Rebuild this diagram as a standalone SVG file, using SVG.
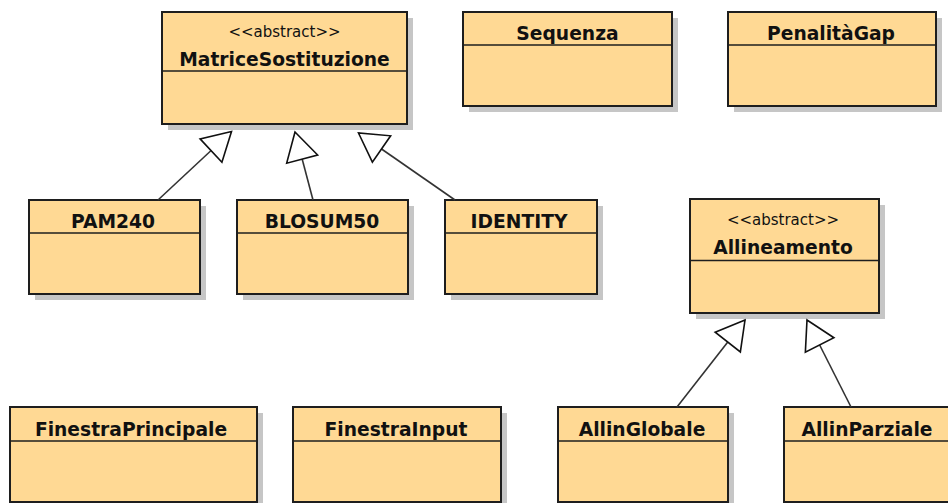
<svg xmlns="http://www.w3.org/2000/svg" width="948" height="503" viewBox="0 0 948 503">
<style>
.sh{fill:#c6c6c6;stroke:none}
.bx{fill:#ffd994;stroke:#1e1e1e;stroke-width:2}
.dv{stroke:#1e1e1e;stroke-width:1.6}
.nm{font-family:"DejaVu Sans","Liberation Sans",sans-serif;font-weight:bold;font-size:18.7px;fill:#111;text-anchor:middle}
.st{font-family:"DejaVu Sans","Liberation Sans",sans-serif;font-size:15px;fill:#111;text-anchor:middle}
.cn{stroke:#333;stroke-width:1.6;fill:none;marker-end:url(#gen)}
</style>
<defs>
<marker id="gen" markerUnits="userSpaceOnUse" markerWidth="40" markerHeight="40" viewBox="-32 -20 40 40" refX="0" refY="0" orient="auto" overflow="visible">
<path d="M0,0 L-28,-16 L-28,16 Z" fill="#fff" stroke="#111" stroke-width="1.6" stroke-linejoin="miter"/>
</marker>
</defs>
<rect width="948" height="503" fill="#fff"/>

<g id="MatriceSostituzione">
<rect class="sh" x="168" y="18" width="245" height="112"/>
<rect class="bx" x="162" y="12" width="245" height="112"/>
<line class="dv" x1="162" y1="71" x2="407" y2="71"/>
<text class="st" x="284.5" y="37">&lt;&lt;abstract&gt;&gt;</text>
<text class="nm" x="284.5" y="66">MatriceSostituzione</text>
</g>

<g id="Sequenza">
<rect class="sh" x="469" y="18" width="209" height="94"/>
<rect class="bx" x="463" y="12" width="209" height="94"/>
<line class="dv" x1="463" y1="45" x2="672" y2="45"/>
<text class="nm" x="567.5" y="40">Sequenza</text>
</g>

<g id="PenalitaGap">
<rect class="sh" x="734" y="18" width="208" height="94"/>
<rect class="bx" x="728" y="12" width="208" height="94"/>
<line class="dv" x1="728" y1="45" x2="936" y2="45"/>
<text class="nm" x="831" y="40">PenalitàGap</text>
</g>

<g id="PAM240">
<rect class="sh" x="35" y="206" width="171" height="94"/>
<rect class="bx" x="29" y="200" width="171" height="94"/>
<line class="dv" x1="29" y1="233" x2="200" y2="233"/>
<text class="nm" x="113" y="228">PAM240</text>
</g>

<g id="BLOSUM50">
<rect class="sh" x="243" y="206" width="171" height="94"/>
<rect class="bx" x="237" y="200" width="171" height="94"/>
<line class="dv" x1="237" y1="233" x2="408" y2="233"/>
<text class="nm" x="322" y="228">BLOSUM50</text>
</g>

<g id="IDENTITY">
<rect class="sh" x="451" y="206" width="152" height="94"/>
<rect class="bx" x="445" y="200" width="152" height="94"/>
<line class="dv" x1="445" y1="233" x2="597" y2="233"/>
<text class="nm" x="519" y="228">IDENTITY</text>
</g>

<g id="Allineamento">
<rect class="sh" x="696" y="205" width="189" height="114"/>
<rect class="bx" x="690" y="199" width="189" height="114"/>
<line class="dv" x1="690" y1="260.5" x2="879" y2="260.5"/>
<text class="st" x="783" y="225">&lt;&lt;abstract&gt;&gt;</text>
<text class="nm" x="783" y="254">Allineamento</text>
</g>

<g id="FinestraPrincipale">
<rect class="sh" x="16" y="413" width="247" height="95"/>
<rect class="bx" x="10" y="407" width="247" height="95"/>
<line class="dv" x1="10" y1="441" x2="257" y2="441"/>
<text class="nm" x="131" y="436">FinestraPrincipale</text>
</g>

<g id="FinestraInput">
<rect class="sh" x="299" y="413" width="208" height="95"/>
<rect class="bx" x="293" y="407" width="208" height="95"/>
<line class="dv" x1="293" y1="441" x2="501" y2="441"/>
<text class="nm" x="396" y="436">FinestraInput</text>
</g>

<g id="AllinGlobale">
<rect class="sh" x="564" y="413" width="170" height="95"/>
<rect class="bx" x="558" y="407" width="170" height="95"/>
<line class="dv" x1="558" y1="441" x2="728" y2="441"/>
<text class="nm" x="642" y="436">AllinGlobale</text>
</g>

<g id="AllinParziale">
<rect class="sh" x="790" y="413" width="167" height="95"/>
<rect class="bx" x="784" y="407" width="167" height="95"/>
<line class="dv" x1="784" y1="441" x2="951" y2="441"/>
<text class="nm" x="867" y="436">AllinParziale</text>
</g>

<g id="connectors">
<line class="cn" x1="158" y1="200" x2="231.5" y2="131.5"/>
<line class="cn" x1="313" y1="200" x2="295" y2="132"/>
<line class="cn" x1="455" y1="200" x2="358.5" y2="133"/>
<line class="cn" x1="677" y1="407" x2="745" y2="320"/>
<line class="cn" x1="851" y1="407" x2="807" y2="320"/>
</g>
</svg>
